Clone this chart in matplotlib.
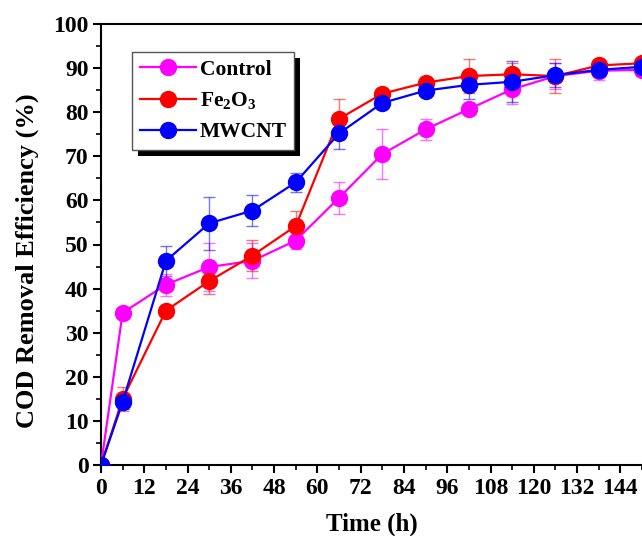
import matplotlib
matplotlib.use("Agg")
import matplotlib.pyplot as plt
from matplotlib.patches import Rectangle
from matplotlib.ticker import MultipleLocator

time_h = [0, 6, 18, 30, 42, 54, 66, 78, 90, 102, 114, 126, 138, 150]
control = [0, 34.5, 40.9, 44.9, 46.3, 50.9, 60.6, 70.5, 76.1, 80.7, 85.2, 88.2, 89.4, 89.6]
control_err = [0, 0.5, 2.5, 5.5, 4.0, 2.0, 3.6, 5.7, 2.3, 1.0, 3.3, 3.0, 2.0, 1.0]
fe2o3 = [0, 15.0, 35.0, 41.7, 47.5, 54.2, 78.5, 84.2, 86.7, 88.2, 88.6, 88.2, 90.6, 91.1]
fe2o3_err = [0, 2.7, 1.0, 3.0, 3.5, 3.5, 4.6, 1.0, 1.0, 3.8, 2.5, 3.8, 1.0, 1.0]
mwcnt = [0, 14.3, 46.3, 54.8, 57.7, 64.1, 75.2, 82.1, 84.9, 86.2, 86.9, 88.4, 89.6, 90.3]
mwcnt_err = [0, 1.5, 3.4, 6.0, 3.5, 2.2, 3.6, 1.0, 1.0, 3.2, 4.7, 2.7, 1.5, 1.0]

series = [("Control", control, control_err, "#ff00ff"),
          ("Fe$_2$O$_3$", fe2o3, fe2o3_err, "#ff0000"),
          ("MWCNT", mwcnt, mwcnt_err, "#0000ff")]

plt.rcParams['font.family'] = ['Liberation Serif', 'DejaVu Serif']
plt.rcParams['font.weight'] = 'bold'
plt.rcParams['mathtext.fontset'] = 'custom'
plt.rcParams['mathtext.rm'] = 'Liberation Serif:bold'
plt.rcParams['mathtext.it'] = 'Liberation Serif:bold'
plt.rcParams['mathtext.bf'] = 'Liberation Serif:bold'

fig = plt.figure(figsize=(6.42, 5.36), dpi=100)
W, H = 642, 536
ax = fig.add_axes([101 / W, (536 - 465) / H, (642 - 101) / W, (465 - 24) / H])

for name, vals, errs, col in series:
    ax.errorbar(time_h, vals, yerr=errs, fmt='none', ecolor=col, alpha=0.55,
                elinewidth=1.0, capsize=4, capthick=1.0, zorder=2)
    ax.plot(time_h, vals, '-o', color=col, lw=1.6, markersize=11.5,
            label=name, zorder=3, clip_on=True)

ax.set_xlim(0, 150)
ax.set_ylim(0, 100)
ax.xaxis.set_major_locator(MultipleLocator(12))
ax.xaxis.set_minor_locator(MultipleLocator(6))
ax.yaxis.set_major_locator(MultipleLocator(10))
ax.yaxis.set_minor_locator(MultipleLocator(5))
ax.tick_params(which='major', direction='out', length=6, width=1.5, labelsize=17, pad=3)
ax.tick_params(which='minor', direction='out', length=3.5, width=1.2)
ax.tick_params(top=False, right=False)
for lab in ax.get_xticklabels() + ax.get_yticklabels():
    lab.set_fontweight('bold')
ax.spines['right'].set_visible(False)
for s in ['left', 'bottom', 'top']:
    ax.spines[s].set_linewidth(1.5)

ax.set_xlabel('Time (h)', fontsize=18, fontweight='bold', labelpad=10)
ax.set_ylabel('COD Removal Efficiency (%)', fontsize=19, fontweight='bold')
ax.yaxis.set_label_coords(-0.115, 0.463)

leg = ax.legend(loc='upper left', bbox_to_anchor=((132 - 101) / 541, (465 - 52) / 441),
                fontsize=15.5, frameon=True, fancybox=False, edgecolor='#555555',
                framealpha=1, handlelength=2.6, borderpad=0.35, labelspacing=0.5,
                handletextpad=0.2, borderaxespad=0)
leg.get_frame().set_linewidth(1.0)
leg.set_zorder(10)

fig.canvas.draw()
bb = leg.get_window_extent()
inv = fig.transFigure.inverted()
(x0, y0), (x1, y1) = inv.transform([(bb.x0 + 6, bb.y0 - 6), (bb.x1 + 6, bb.y1 - 6)])
shadow = Rectangle((x0, y0), x1 - x0, y1 - y0, transform=fig.transFigure,
                   facecolor='black', edgecolor='none', zorder=9)
ax.add_artist(shadow)
shadow.set_clip_on(False)

fig.savefig('out.png', dpi=100)
